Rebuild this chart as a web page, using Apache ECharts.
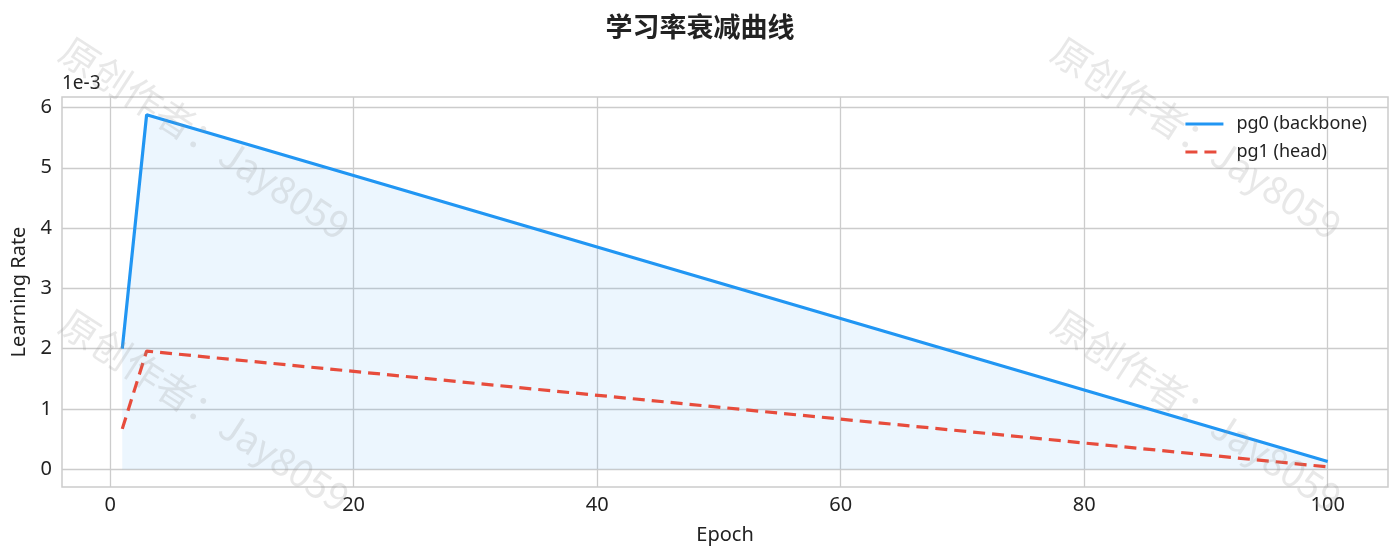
<!DOCTYPE html>
<html>
<head>
<meta charset="utf-8">
<script src="https://cdn.jsdelivr.net/npm/echarts@6/dist/echarts.min.js"></script>
<style>
  html, body { margin: 0; padding: 0; background: #fff; }
  #chart { width: 1400px; height: 558px; }
</style>
</head>
<body>
<div id="chart"></div>
<script>
// 数据
var epochs = [1, 3, 100]
var pg0 = [0.00200, 0.00588, 0.00013] // backbone
var pg1 = [0.00067, 0.00196, 0.00004] // head
var xTicks = [0, 20, 40, 60, 80, 100]
var yTicks = [0, 0.001, 0.002, 0.003, 0.004, 0.005, 0.006]

var font = 'Noto Sans'
var gridColor = '#cccccc'

function pairs (xs, ys) {
  return xs.map(function (x, i) { return [x, ys[i]] })
}

// 水印
function mark (cx, cy) {
  return {
    type: 'text',
    x: cx,
    y: cy,
    rotation: -Math.PI * 33 / 180,
    z: 100,
    silent: true,
    style: {
      text: '原创作者：Jay8059',
      font: '38px "Noto Sans CJK SC", sans-serif',
      fill: 'rgba(150, 150, 150, 0.22)',
      align: 'center',
      verticalAlign: 'middle'
    }
  }
}

var option = {
  backgroundColor: '#fff',
  animation: false,
  title: {
    text: '学习率衰减曲线',
    left: 'center',
    top: 8,
    textStyle: {
      fontFamily: 'Noto Sans CJK SC',
      fontSize: 27,
      fontWeight: 'bold',
      color: '#222'
    }
  },
  legend: {
    orient: 'vertical',
    right: 28,
    top: 110,
    itemWidth: 38,
    itemHeight: 14,
    itemGap: 10,
    itemStyle: { opacity: 0 },
    lineStyle: { width: 3 },
    textStyle: { fontFamily: font, fontSize: 18, color: '#222', padding: [0, 0, 0, 8] },
    data: ['pg0 (backbone)', 'pg1 (head)']
  },
  grid: {
    left: 62,
    right: 12,
    top: 97,
    bottom: 71,
    show: true,
    borderColor: gridColor,
    borderWidth: 1.5,
    containLabel: false
  },
  xAxis: {
    type: 'value',
    min: -3.95,
    max: 104.95,
    name: 'Epoch',
    nameLocation: 'middle',
    nameGap: 38,
    nameTextStyle: { fontFamily: font, fontSize: 20, color: '#222' },
    axisLine: { show: false },
    axisTick: { show: false, customValues: xTicks },
    axisLabel: {
      customValues: xTicks,
      fontFamily: font,
      fontSize: 20,
      color: '#222',
      margin: 8
    },
    splitLine: { show: true, lineStyle: { color: gridColor, width: 1.3 } }
  },
  yAxis: {
    type: 'value',
    min: -0.000294,
    max: 0.006174,
    name: 'Learning Rate',
    nameLocation: 'middle',
    nameGap: 32,
    nameTextStyle: { fontFamily: font, fontSize: 20, color: '#222' },
    axisLine: { show: false },
    axisTick: { show: false, customValues: yTicks },
    axisLabel: {
      customValues: yTicks,
      fontFamily: font,
      fontSize: 20,
      color: '#222',
      margin: 10,
      formatter: function (v) { return String(Math.round(v * 1000)) }
    },
    splitLine: { show: true, lineStyle: { color: gridColor, width: 1.3 } }
  },
  graphic: [
    {
      type: 'text',
      left: 62,
      top: 74,
      style: { text: '1e-3', font: '19px "Noto Sans", sans-serif', fill: '#222' }
    },
    mark(205, 138),
    mark(1197, 138),
    mark(205, 410),
    mark(1197, 410)
  ],
  series: [
    {
      name: 'pg0 (backbone)',
      type: 'line',
      showSymbol: false,
      symbol: 'none',
      color: '#2196F3',
      lineStyle: { width: 3.2, color: '#2196F3' },
      areaStyle: { color: 'rgba(33, 150, 243, 0.12)' },
      data: pairs(epochs, pg0)
    },
    {
      name: 'pg1 (head)',
      type: 'line',
      showSymbol: false,
      symbol: 'none',
      color: '#E74C3C',
      lineStyle: { width: 3.2, color: '#E74C3C', type: [12, 7] },
      data: pairs(epochs, pg1)
    }
  ]
}

echarts.init(document.getElementById('chart')).setOption(option)
</script>
</body>
</html>
